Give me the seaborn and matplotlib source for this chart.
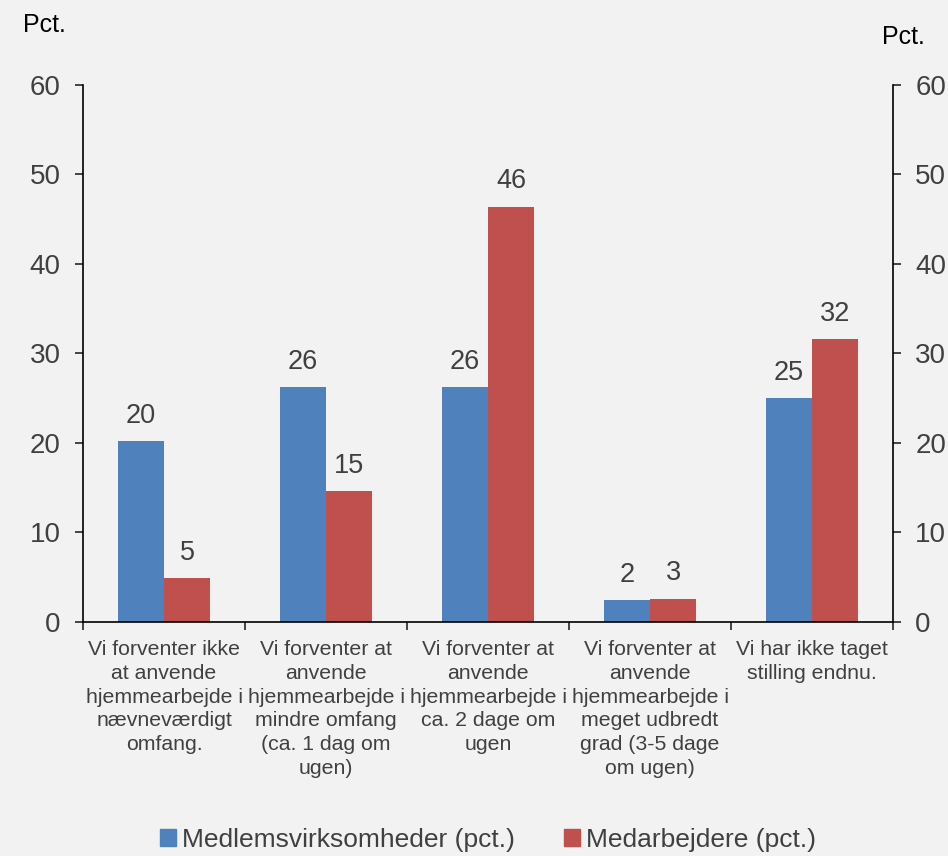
# import modules
import numpy as np
import pandas as pd
import matplotlib.pyplot as plt
import seaborn as sns

# data
categories = [
    "Vi forventer ikke\nat anvende\nhjemmearbejde i\nnævneværdigt\nomfang.",
    "Vi forventer at\nanvende\nhjemmearbejde i\nmindre omfang\n(ca. 1 dag om\nugen)",
    "Vi forventer at\nanvende\nhjemmearbejde i\nca. 2 dage om\nugen",
    "Vi forventer at\nanvende\nhjemmearbejde i\nmeget udbredt\ngrad (3-5 dage\nom ugen)",
    "Vi har ikke taget\nstilling endnu.",
]
series_names = ["Medlemsvirksomheder (pct.)", "Medarbejdere (pct.)"]
medlemsvirksomheder = [20.2, 26.2, 26.2, 2.4, 25.0]
medarbejdere = [4.9, 14.6, 46.4, 2.6, 31.6]
y_ticks = [0, 10, 20, 30, 40, 50, 60]

colors = ["#4F81BD", "#C0504D"]
bg = "#F2F2F2"
txt = "#404040"

# long format for seaborn
df = pd.DataFrame({
    "kategori": categories * 2,
    "serie": [series_names[0]] * 5 + [series_names[1]] * 5,
    "pct": medlemsvirksomheder + medarbejdere,
})

sns.set_style("ticks")
plt.rcParams['font.family'] = ['Liberation Sans', 'DejaVu Sans']

fig = plt.figure(figsize=(9.48, 8.56), dpi=100, facecolor=bg)
ax = fig.add_axes([0.0876, 0.2734, 0.8544, 0.6273])
ax.set_facecolor(bg)

sns.barplot(data=df, x="kategori", y="pct", hue="serie", palette=colors,
            width=0.57, gap=0, saturation=1, linewidth=0, ax=ax, legend=False)

# data labels
for cont in ax.containers:
    ax.bar_label(cont, labels=[f"{v:.0f}" for v in cont.datavalues],
                 padding=9, fontsize=19.5, color=txt)

ax.set_ylim(0, 60)
ax.set_xlim(-0.5, 4.5)
ax.set_yticks(y_ticks)
ax.set_xlabel("")
ax.set_ylabel("")

# spines
for s in ["left", "bottom", "right"]:
    ax.spines[s].set_visible(True)
    ax.spines[s].set_color("#000000")
    ax.spines[s].set_linewidth(1.2)
ax.spines["top"].set_visible(False)

# y ticks on both sides
ax.yaxis.set_ticks_position("both")
ax.tick_params(axis="y", which="major", direction="out", length=6, width=1.2,
               labelsize=20, labelcolor=txt, labelleft=True, labelright=True,
               pad=10)
for lab in ax.get_yticklabels():
    lab.set_color(txt)

# x: labels at centers, tick marks at category boundaries
ax.set_xticks(range(len(categories)))
ax.set_xticklabels(categories, fontsize=15.3, color=txt, linespacing=1.32,
                   ha="center", va="top")
ax.tick_params(axis="x", which="major", length=0, pad=13)
ax.set_xticks(np.arange(-0.5, len(categories), 1.0), minor=True)
ax.tick_params(axis="x", which="minor", direction="out", length=6, width=1.2)

# "Pct." labels
fig.text(23 / 948, 1 - 32 / 856, "Pct.", fontsize=18, color="#000000")
fig.text(882 / 948, 1 - 44 / 856, "Pct.", fontsize=18, color="#000000")

# legend
handles = [plt.Rectangle((0, 0), 1, 1, color=c) for c in colors]
fig.legend(handles, series_names, loc="center",
           bbox_to_anchor=(0.5 + 14 / 948, 1 - 840 / 856),
           ncol=2, frameon=False, fontsize=19, handlelength=0.6, handleheight=0.6,
           handletextpad=0.25, columnspacing=1.85, labelcolor=txt)

fig.savefig("out.png", dpi=100, facecolor=bg)
